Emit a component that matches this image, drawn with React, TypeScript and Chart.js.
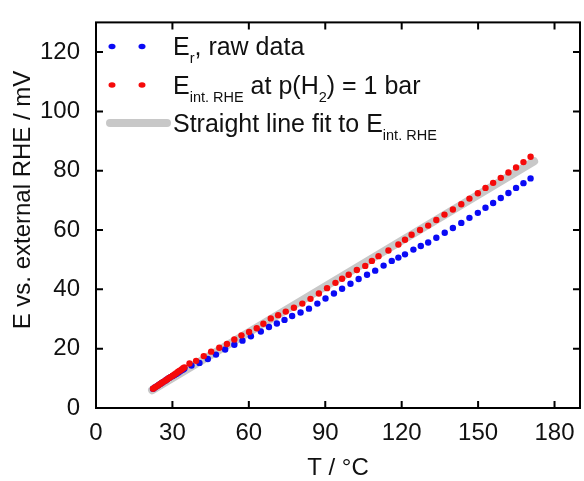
import React, { useEffect, useRef } from "react";
import { Chart, registerables } from "chart.js";

Chart.register(...registerables);

// ---- data ----
const X_TICKS = [0, 30, 60, 90, 120, 150, 180];
const Y_TICKS = [0, 20, 40, 60, 80, 100, 120];

const RAW_T = [22.4, 23.1, 23.8, 24.5, 25.2, 25.9, 26.6, 27.3, 28.0, 28.7, 29.4, 30.1, 30.8, 31.5, 32.2, 32.9, 33.6, 34.2, 34.7,
  37.5, 40.6, 43.9, 47.1, 50.7, 54.3, 57.5, 60.8, 64.7, 67.9, 71.0, 74.0, 77.0, 80.3, 83.6, 86.9, 90.1, 93.4, 96.6, 99.9,
  103.1, 106.4, 109.6, 112.9, 116.1, 118.7, 121.3, 124.6, 127.5, 130.4, 133.6, 136.9, 140.1, 143.4, 146.6, 149.9, 152.9,
  155.9, 158.9, 161.9, 164.9, 167.8, 170.6];
const RAW_E = [6.5, 6.9, 7.3, 7.7, 8.1, 8.5, 8.9, 9.3, 9.7, 10.1, 10.5, 10.8, 11.1, 11.5, 11.9, 12.3, 12.7, 13.0, 13.3,
  14.3, 15.2, 16.5, 18.0, 19.7, 21.3, 22.7, 24.2, 25.8, 27.3, 28.5, 29.7, 31.0, 32.2, 33.5, 35.2, 36.9, 38.6, 40.2, 41.9,
  43.5, 44.9, 46.3, 48.0, 49.6, 50.7, 51.8, 53.4, 54.6, 55.8, 57.4, 59.1, 60.7, 62.4, 64.1, 65.8, 67.5,
  69.1, 70.8, 72.5, 74.2, 75.8, 77.4];

const INT_T = [22.4, 23.1, 23.8, 24.5, 25.2, 25.9, 26.6, 27.3, 28.0, 28.7, 29.4, 30.1, 30.8, 31.5, 32.2, 32.9, 33.6, 34.2, 34.7,
  36.7, 39.3, 42.3, 45.2, 48.4, 51.4, 54.3, 57.1, 60.1, 63.1, 65.7, 68.6, 71.5, 74.5, 77.7, 81.0, 84.2, 87.5, 90.7, 94.0,
  96.6, 99.2, 102.4, 105.7, 108.3, 110.9, 114.8, 118.7, 121.3, 123.9, 127.2, 130.4, 133.6, 136.8, 140.1, 143.4, 146.6,
  149.9, 152.9, 155.9, 158.9, 161.9, 164.9, 167.8, 170.6];
const INT_E = [6.5, 6.9, 7.3, 7.7, 8.1, 8.5, 8.9, 9.3, 9.7, 10.1, 10.5, 10.9, 11.3, 11.7, 12.2, 12.6, 13.0, 13.4, 13.7,
  15.0, 15.9, 17.5, 19.0, 20.3, 21.6, 23.1, 24.5, 25.6, 26.9, 28.4, 30.2, 31.3, 32.5, 33.8, 35.2, 36.8, 38.6, 40.4, 42.2,
  43.6, 44.9, 46.5, 47.9, 49.6, 51.2, 53.1, 55.1, 56.7, 58.4, 60.0, 61.5, 63.4, 65.2, 66.9, 68.7, 70.6,
  72.4, 74.2, 75.9, 77.6, 79.4, 81.1, 82.9, 84.7];

const FIT_T = [22, 172];
const FIT_E = [6.0, 83.2];

const X_TITLE = "T / \u00B0C";
const Y_TITLE = "E vs. external RHE / mV";

const FONT = "'Liberation Sans', Arial, sans-serif";
const BLUE = "rgb(10,10,245)";
const RED = "rgb(245,10,10)";
const GREY = "rgb(200,200,200)";

type Part = { t: string; sub?: boolean };

function drawRich(ctx: CanvasRenderingContext2D, parts: Part[], x: number, baseline: number) {
  let cx = x;
  for (const p of parts) {
    ctx.font = p.sub ? `14.5px ${FONT}` : `25px ${FONT}`;
    ctx.fillText(p.t, cx, p.sub ? baseline + 8 : baseline);
    cx += ctx.measureText(p.t).width;
  }
}

const framePlugin = {
  id: "frameAndExtras",
  afterDraw(chart: any) {
    const ctx: CanvasRenderingContext2D = chart.ctx;
    const { left, right, top, bottom } = chart.chartArea;
    const xs = chart.scales.x;
    const ys = chart.scales.y;
    ctx.save();
    ctx.strokeStyle = "#000";
    ctx.lineWidth = 2;
    ctx.strokeRect(left, top, right - left, bottom - top);
    const tl = 7;
    ctx.beginPath();
    for (const v of X_TICKS) {
      const px = xs.getPixelForValue(v);
      ctx.moveTo(px, bottom);
      ctx.lineTo(px, bottom - tl);
      ctx.moveTo(px, top);
      ctx.lineTo(px, top + tl);
    }
    for (const v of Y_TICKS) {
      const py = ys.getPixelForValue(v);
      ctx.moveTo(left, py);
      ctx.lineTo(left + tl, py);
      ctx.moveTo(right, py);
      ctx.lineTo(right - tl, py);
    }
    ctx.stroke();

    // axis titles
    ctx.fillStyle = "#111";
    ctx.font = `24px ${FONT}`;
    ctx.textAlign = "center";
    ctx.textBaseline = "middle";
    ctx.fillText(X_TITLE, (left + right) / 2, 468);
    ctx.save();
    ctx.translate(23, 200);
    ctx.rotate(-Math.PI / 2);
    ctx.fillText(Y_TITLE, 0, 0);
    ctx.restore();

    // legend
    ctx.textAlign = "left";
    ctx.textBaseline = "alphabetic";
    const tx = 173;
    ctx.fillStyle = BLUE;
    for (const dx of [112, 142]) {
      ctx.beginPath();
      ctx.ellipse(dx, 46.5, 3.5, 2.8, 0, 0, Math.PI * 2);
      ctx.fill();
    }
    ctx.fillStyle = RED;
    for (const dx of [112, 142]) {
      ctx.beginPath();
      ctx.ellipse(dx, 85, 3.5, 2.8, 0, 0, Math.PI * 2);
      ctx.fill();
    }
    ctx.strokeStyle = GREY;
    ctx.lineWidth = 8;
    ctx.lineCap = "round";
    ctx.beginPath();
    ctx.moveTo(110, 123);
    ctx.lineTo(167, 123);
    ctx.stroke();

    ctx.fillStyle = "#111";
    drawRich(ctx, [{ t: "E" }, { t: "r", sub: true }, { t: ", raw data" }], tx, 55);
    drawRich(ctx, [{ t: "E" }, { t: "int. RHE", sub: true }, { t: " at p(H" }, { t: "2", sub: true }, { t: ") = 1 bar" }], tx, 94);
    drawRich(ctx, [{ t: "Straight line fit to E" }, { t: "int. RHE", sub: true }], tx, 132);
    ctx.restore();
  },
};

export default function App() {
  const ref = useRef<HTMLCanvasElement | null>(null);
  useEffect(() => {
    if (!ref.current) return;
    const toXY = (xs: number[], ys: number[]) => xs.map((x, i) => ({ x, y: ys[i] }));
    const chart = new Chart(ref.current, {
      type: "scatter",
      data: {
        datasets: [
          {
            label: "E int. RHE at p(H2) = 1 bar",
            data: toXY(INT_T, INT_E),
            backgroundColor: RED,
            borderColor: RED,
            pointRadius: 3.2,
            pointBorderWidth: 0,
            order: 0,
          },
          {
            label: "Er, raw data",
            data: toXY(RAW_T, RAW_E),
            backgroundColor: BLUE,
            borderColor: BLUE,
            pointRadius: 3.2,
            pointBorderWidth: 0,
            order: 1,
          },
          {
            label: "Straight line fit",
            data: toXY(FIT_T, FIT_E),
            showLine: true,
            borderColor: GREY,
            backgroundColor: GREY,
            borderWidth: 8,
            borderCapStyle: "round",
            pointRadius: 0,
            order: 2,
          } as any,
        ],
      },
      options: {
        animation: false,
        responsive: true,
        maintainAspectRatio: false,
        layout: { padding: { top: 15, right: 2, left: 0, bottom: 0 } },
        plugins: { legend: { display: false }, tooltip: { enabled: false } },
        scales: {
          x: {
            type: "linear",
            min: 0,
            max: 190,
            grid: { display: false },
            border: { display: false },
            afterBuildTicks: (s: any) => {
              s.ticks = X_TICKS.map((v) => ({ value: v }));
            },
            afterFit: (s: any) => {
              s.height = 73;
            },
            ticks: {
              padding: 3,
              color: "#111",
              font: { family: FONT, size: 24 },
              maxRotation: 0,
            },
          },
          y: {
            type: "linear",
            min: 0,
            max: 130,
            grid: { display: false },
            border: { display: false },
            afterBuildTicks: (s: any) => {
              s.ticks = Y_TICKS.map((v) => ({ value: v }));
            },
            afterFit: (s: any) => {
              s.width = 96;
            },
            ticks: {
              padding: 8,
              color: "#111",
              font: { family: FONT, size: 24 },
            },
          },
        },
      },
      plugins: [framePlugin],
    });
    return () => chart.destroy();
  }, []);
  return (
    <div style={{ position: "fixed", left: 0, top: 0, width: 584, height: 481, background: "#fff" }}>
      <canvas ref={ref} />
    </div>
  );
}
